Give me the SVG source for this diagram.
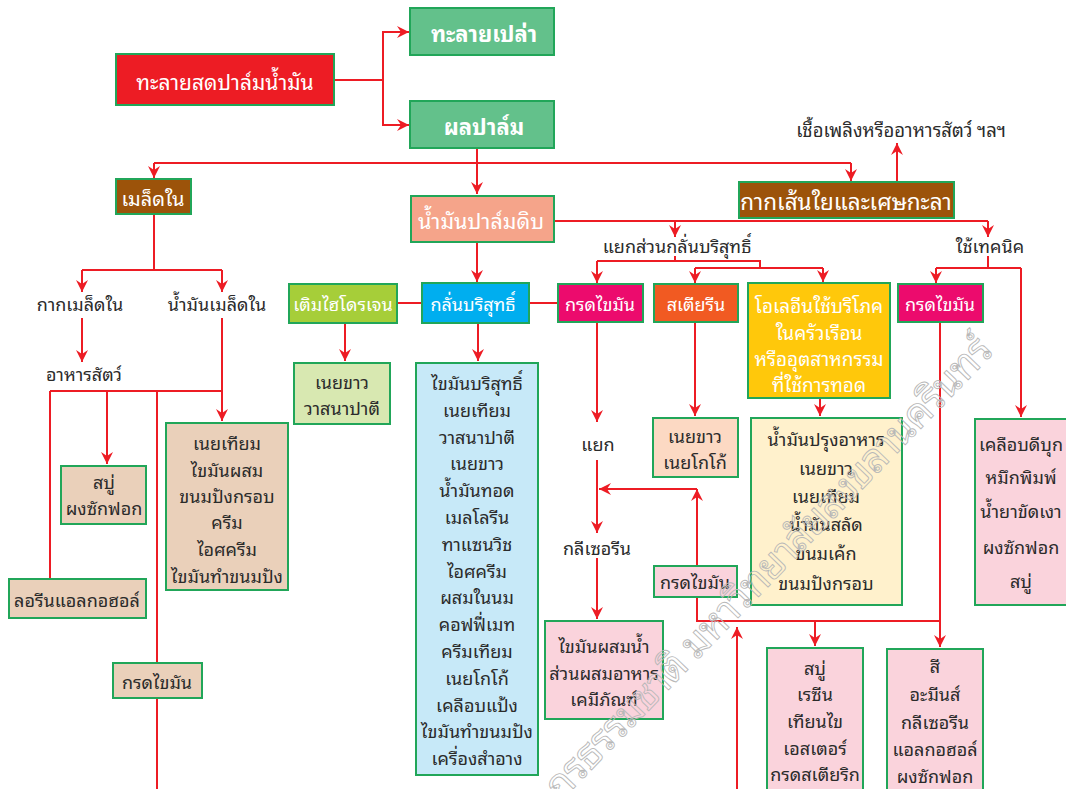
<svg xmlns="http://www.w3.org/2000/svg" width="1066" height="789" viewBox="0 0 1066 789">
  <defs>
    <marker id="arrow" viewBox="0 0 12 12" refX="12" refY="6" markerWidth="12" markerHeight="12" markerUnits="userSpaceOnUse" orient="auto">
      <path d="M0,0 L12,6 L0,12 L4,6 z" fill="#ED1C24"/>
    </marker>
  </defs>
  <style>
    text { font-family: "Noto Sans Thai Looped", "Noto Looped Thai", "Noto Sans Thai", "Noto Sans", "DejaVu Sans", sans-serif; text-anchor: middle; dominant-baseline: central; }
    .box { stroke: #21A659; stroke-width: 2; }
    .w { fill: #ffffff; font-size: 20px; }
    .w18 { fill: #ffffff; font-size: 18px; }
    .wb { fill: #ffffff; font-size: 22px; font-weight: bold; }
    .d { fill: #2b2b2b; font-size: 18px; }
    .lbl { fill: #2b2b2b; font-size: 18px; }
    .wire { fill: none; stroke: #ED1C24; stroke-width: 2; }
    .arr { fill: none; stroke: #ED1C24; stroke-width: 2; marker-end: url(#arrow); }
    .wm { fill: none; stroke: #b8b8b8; stroke-width: 0.9; font-size: 40px; text-anchor: start; }
    .red { fill: #ED1C24; } .green { fill: #63C18B; } .brown { fill: #9C530A; }
    .salmon { fill: #F5A48A; } .cyan { fill: #00AEEF; } .lime { fill: #A6CE39; }
    .magenta { fill: #EC0B6D; } .orange { fill: #F15A22; } .gold { fill: #FFC80B; }
    .pale { fill: #D8E8B1; } .tan { fill: #EAD0BA; } .sky { fill: #C7E9F8; }
    .cream { fill: #FFF1CC; } .pink { fill: #FAD3DC; } .peach { fill: #FCD9C3; }
  </style>

  <!-- connectors -->
  <g id="connectors">
    <path class="wire" d="M334,80 H383"/>
    <path class="arr" d="M383,80 V32 H409"/>
    <path class="arr" d="M383,80 V125 H409"/>
    <path class="arr" d="M477,148 V194"/>
    <path class="wire" d="M154,163 H851"/>
    <path class="arr" d="M154,163 V178"/>
    <path class="arr" d="M851,163 V181"/>
    <path class="arr" d="M897,182 V143"/>
    <path class="wire" d="M554,221 H988"/>
    <path class="arr" d="M675,221 V237"/>
    <path class="arr" d="M988,221 V237"/>
    <path class="wire" d="M675,256 V261"/>
    <path class="wire" d="M597,261 H760 V268"/>
    <path class="arr" d="M597,261 V283"/>
    <path class="wire" d="M695,268 H823"/>
    <path class="arr" d="M695,268 V283"/>
    <path class="arr" d="M823,268 V282"/>
    <path class="wire" d="M988,256 V268"/>
    <path class="wire" d="M936,268 H1021"/>
    <path class="arr" d="M936,268 V283"/>
    <path class="arr" d="M1021,268 V417"/>
    <path class="arr" d="M477,242 V282"/>
    <path class="wire" d="M397,303 H422"/>
    <path class="wire" d="M529,303 H558"/>
    <path class="arr" d="M345,323 V361"/>
    <path class="arr" d="M478,323 V361"/>
    <path class="arr" d="M597,322 V422"/>
    <path class="arr" d="M597,460 V533"/>
    <path class="arr" d="M597,558 V619"/>
    <path class="arr" d="M697,566 V489"/>
    <path class="arr" d="M697,489 H599"/>
    <path class="arr" d="M695,322 V416"/>
    <path class="arr" d="M820,398 V416"/>
    <path class="arr" d="M940,322 V647"/>
    <path class="wire" d="M697,597 V621 H940"/>
    <path class="arr" d="M815,621 V646"/>
    <path class="arr" d="M737,789 V627"/>
    <path class="wire" d="M154,214 V270"/>
    <path class="wire" d="M82,270 H222"/>
    <path class="arr" d="M82,270 V292"/>
    <path class="arr" d="M222,270 V292"/>
    <path class="arr" d="M82,318 V362"/>
    <path class="arr" d="M222,318 V421"/>
    <path class="wire" d="M50,391 H222"/>
    <path class="wire" d="M50,391 V579"/>
    <path class="arr" d="M107,391 V464"/>
    <path class="wire" d="M157,391 V663"/>
    <path class="wire" d="M157,698 V789"/>
  </g>

  <!-- free labels -->
  <g id="labels">
    <text class="lbl" x="901" y="128" style="font-size:18.5px">เชื้อเพลิงหรืออาหารสัตว์ ฯลฯ</text>
    <text class="lbl" x="677" y="245">แยกส่วนกลั่นบริสุทธิ์</text>
    <text class="lbl" x="990" y="245">ใช้เทคนิค</text>
    <text class="lbl" x="80" y="303">กากเมล็ดใน</text>
    <text class="lbl" x="217" y="303">น้ำมันเมล็ดใน</text>
    <text class="lbl" x="84" y="373">อาหารสัตว์</text>
    <text class="lbl" x="598" y="443">แยก</text>
    <text class="lbl" x="597" y="547">กลีเซอรีน</text>
  </g>

  <g id="bunch">
    <rect class="box red" x="116" y="54" width="218" height="51"/>
    <text class="w" x="225" y="80" style="font-size:21px">ทะลายสดปาล์มน้ำมัน</text>
  </g>
  <g id="empty-bunch">
    <rect class="box green" x="410" y="8" width="144" height="47"/>
    <text class="wb" x="484" y="32">ทะลายเปล่า</text>
  </g>
  <g id="fruit">
    <rect class="box green" x="410" y="101" width="144" height="47"/>
    <text class="wb" x="484" y="125">ผลปาล์ม</text>
  </g>
  <g id="kernel">
    <rect class="box brown" x="116" y="179" width="75" height="35"/>
    <text class="w" x="153" y="197">เมล็ดใน</text>
  </g>
  <g id="crude-oil">
    <rect class="box salmon" x="411" y="196" width="143" height="46"/>
    <text class="w" x="481" y="219" style="font-size:21.5px">น้ำมันปาล์มดิบ</text>
  </g>
  <g id="fibre">
    <rect class="box brown" x="739" y="182" width="215" height="36"/>
    <text class="w" x="846" y="200" style="font-size:22.5px">กากเส้นใยและเศษกะลา</text>
  </g>
  <g id="hydrogenate">
    <rect class="box lime" x="289" y="284" width="108" height="39"/>
    <text class="w18" x="343" y="303">เติมไฮโดรเจน</text>
  </g>
  <g id="refine">
    <rect class="box cyan" x="422" y="283" width="107" height="40"/>
    <text class="w18" x="473" y="303">กลั่นบริสุทธิ์</text>
  </g>
  <g id="fatty-acid-mid">
    <rect class="box magenta" x="558" y="284" width="85" height="38"/>
    <text class="w18" x="600" y="303">กรดไขมัน</text>
  </g>
  <g id="stearin">
    <rect class="box orange" x="654" y="284" width="84" height="38"/>
    <text class="w18" x="696" y="303">สเตียรีน</text>
  </g>
  <g id="olein">
    <rect class="box gold" x="748" y="283" width="142" height="115"/>
    <text class="w18" x="819" y="304" style="font-size:19px">โอเลอีนใช้บริโภค</text>
    <text class="w18" x="819" y="331" style="font-size:19px">ในครัวเรือน</text>
    <text class="w18" x="819" y="357" style="font-size:19px">หรืออุตสาหกรรม</text>
    <text class="w18" x="819" y="383" style="font-size:19px">ที่ใช้การทอด</text>
  </g>
  <g id="fatty-acid-right">
    <rect class="box magenta" x="898" y="284" width="85" height="38"/>
    <text class="w18" x="940" y="303">กรดไขมัน</text>
  </g>
  <g id="shortening-white">
    <rect class="box pale" x="294" y="363" width="96" height="61"/>
    <text class="d" x="342" y="381">เนยขาว</text>
    <text class="d" x="342" y="407">วาสนาปาตี</text>
  </g>
  <g id="refined-products">
    <rect class="box sky" x="416" y="363" width="122" height="412"/>
    <text class="d" x="477" y="382">ไขมันบริสุทธิ์</text>
    <text class="d" x="477" y="409">เนยเทียม</text>
    <text class="d" x="477" y="436">วาสนาปาตี</text>
    <text class="d" x="477" y="462">เนยขาว</text>
    <text class="d" x="477" y="489">น้ำมันทอด</text>
    <text class="d" x="477" y="516">เมลโลรีน</text>
    <text class="d" x="477" y="543">ทาแซนวิช</text>
    <text class="d" x="477" y="570">ไอศครีม</text>
    <text class="d" x="477" y="596">ผสมในนม</text>
    <text class="d" x="477" y="623">คอฟฟี่เมท</text>
    <text class="d" x="477" y="650">ครีมเทียม</text>
    <text class="d" x="477" y="677">เนยโกโก้</text>
    <text class="d" x="477" y="704">เคลือบแป้ง</text>
    <text class="d" x="477" y="730">ไขมันทำขนมปัง</text>
    <text class="d" x="477" y="757">เครื่องสำอาง</text>
  </g>
  <g id="stearin-products">
    <rect class="box peach" x="653" y="418" width="85" height="59"/>
    <text class="d" x="695" y="435">เนยขาว</text>
    <text class="d" x="695" y="461">เนยโกโก้</text>
  </g>
  <g id="olein-products">
    <rect class="box cream" x="751" y="418" width="151" height="187"/>
    <text class="d" x="826" y="438">น้ำมันปรุงอาหาร</text>
    <text class="d" x="826" y="467">เนยขาว</text>
    <text class="d" x="826" y="495">เนยเทียม</text>
    <text class="d" x="826" y="523">น้ำมันสลัด</text>
    <text class="d" x="826" y="552">ขนมเค้ก</text>
    <text class="d" x="826" y="582">ขนมปังกรอบ</text>
  </g>
  <g id="technique-products">
    <rect class="box pink" x="975" y="419" width="92" height="186"/>
    <text class="d" x="1021" y="443">เคลือบดีบุก</text>
    <text class="d" x="1021" y="476">หมึกพิมพ์</text>
    <text class="d" x="1021" y="510">น้ำยาขัดเงา</text>
    <text class="d" x="1021" y="546">ผงซักฟอก</text>
    <text class="d" x="1021" y="580">สบู่</text>
  </g>
  <g id="water-blend">
    <rect class="box pink" x="545" y="621" width="118" height="98"/>
    <text class="d" x="604" y="645">ไขมันผสมน้ำ</text>
    <text class="d" x="604" y="672">ส่วนผสมอาหาร</text>
    <text class="d" x="604" y="698">เคมีภัณฑ์</text>
  </g>
  <g id="fatty-acid-small">
    <rect class="box pink" x="654" y="566" width="83" height="31"/>
    <text class="d" x="695" y="581">กรดไขมัน</text>
  </g>
  <g id="soap-resin">
    <rect class="box pink" x="767" y="648" width="96" height="150"/>
    <text class="d" x="815" y="667">สบู่</text>
    <text class="d" x="815" y="693">เรซีน</text>
    <text class="d" x="815" y="720">เทียนไข</text>
    <text class="d" x="815" y="747">เอสเตอร์</text>
    <text class="d" x="815" y="773">กรดสเตียริก</text>
  </g>
  <g id="paint-amine">
    <rect class="box pink" x="887" y="649" width="96" height="150"/>
    <text class="d" x="935" y="665">สี</text>
    <text class="d" x="935" y="693">อะมีนส์</text>
    <text class="d" x="935" y="721">กลีเซอรีน</text>
    <text class="d" x="935" y="748">แอลกอฮอล์</text>
    <text class="d" x="935" y="775">ผงซักฟอก</text>
  </g>
  <g id="kernel-oil-products">
    <rect class="box tan" x="166" y="423" width="122" height="167"/>
    <text class="d" x="227" y="442">เนยเทียม</text>
    <text class="d" x="227" y="469">ไขมันผสม</text>
    <text class="d" x="227" y="495">ขนมปังกรอบ</text>
    <text class="d" x="227" y="521">ครีม</text>
    <text class="d" x="227" y="548">ไอศครีม</text>
    <text class="d" x="227" y="575">ไขมันทำขนมปัง</text>
  </g>
  <g id="soap-detergent">
    <rect class="box tan" x="61" y="466" width="85" height="58"/>
    <text class="d" x="104" y="481">สบู่</text>
    <text class="d" x="104" y="507">ผงซักฟอก</text>
  </g>
  <g id="lauryl-alcohol">
    <rect class="box tan" x="9" y="579" width="137" height="39"/>
    <text class="d" x="77" y="599">ลอรีนแอลกอฮอล์</text>
  </g>
  <g id="fatty-acid-left">
    <rect class="box tan" x="113" y="663" width="89" height="35"/>
    <text class="d" x="157" y="681">กรดไขมัน</text>
  </g>

  <!-- faint outlined stamp across the lower right -->
  <text class="wm" x="0" y="0" transform="translate(548,789) rotate(-46)" textLength="625">กรธรรมชาติ มหาวิทยาลัยสงขลานครินทร์</text>
</svg>
